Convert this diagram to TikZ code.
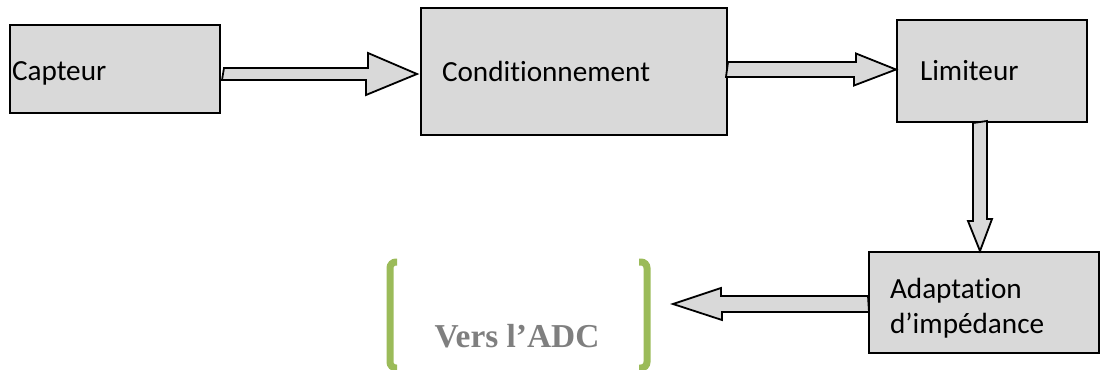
\documentclass[tikz,border=0pt]{standalone}
\usepackage{fontspec}
\setmainfont{Carlito}[Ligatures={TeX,NoCommon}]
\newfontfamily\timesfont{Liberation Serif}
\usetikzlibrary{calc}
\definecolor{grisbloc}{HTML}{D9D9D9}
\definecolor{vertacc}{HTML}{9BBB59}
\definecolor{gristexte}{HTML}{7F7F7F}
\begin{document}
\begin{tikzpicture}[x=0.5pt, y=-0.5pt] % 1 unité = 1 pixel, y vers le bas
\tikzstyle{bloc} = [draw, fill=grisbloc, line width=1pt, align=left, inner ysep=0pt, font=\fontsize{14.6}{17.5}\selectfont] % bloc gris
\tikzstyle{fleche} = [draw, fill=grisbloc, line width=0.9pt, line join=miter] % flèche épaisse
\tikzstyle{crochet} = [draw=vertacc, line width=3.5pt, rounded corners=3pt] % crochet vert

\useasboundingbox (0,0) rectangle (1101,369);

\node[bloc, text width=103pt, inner xsep=1pt, minimum height=44pt] (capteur) at (115,69) {\rule{0pt}{13.4pt}Capteur};
\node[bloc, text width=132pt, inner xsep=10.5pt, minimum height=63.5pt] (cond) at (574,71.5) {Conditionnement};
\node[bloc, text width=72pt, inner xsep=11.5pt, minimum height=51pt] (limiteur) at (992,71) {Limiteur};
\node[bloc, text width=94pt, inner xsep=10.5pt, minimum height=50.5pt] (adapt) at (984,302.5) {\rule{0pt}{16.3pt}Adaptation\\d’impédance};
\node[font=\timesfont\bfseries\fontsize{16.7}{20}\selectfont, text=gristexte] (adc) at (517,336) {Vers l’ADC};
\coordinate (versadc) at (673,304); % pointe vers l'ADC

% flèches entre les blocs
\draw[fleche] ($(capteur.east)+(3,-1)$) -- ++(144,0) -- ++(0,-15) -- ($(cond.west)+(-3,2.5)$) -- ++(-51,21) -- ++(0,-15) -- ++(-144,0) -- cycle;
\draw[fleche] ($(cond.east)+(0,-9.5)$) -- ++(128,0) -- ++(0,-8.5) -- ($(limiteur.west)+(0,-1.5)$) -- ++(-42,16) -- ++(0,-8.5) -- ++(-128,0) -- cycle;
\draw[fleche] ($(limiteur.south)+(-19,0)$) -- ++(0,98) -- ++(-5,0) -- ($(adapt.north)+(-4,0)$) -- ++(12,-32) -- ++(-5,0) -- ++(0,-98) -- cycle;
\draw[fleche] ($(adapt.west)+(0,-6.5)$) -- ++(-147,0) -- ++(0,-8) -- (versadc) -- ++(49,16) -- ++(0,-8) -- ++(147,0) -- cycle;

% crochets autour du texte
\draw[crochet] ($(adc.center)+(-120,-74)$) -- ++(-7,0) -- ++(0,106) -- ++(7,0);
\draw[crochet] ($(adc.center)+(122,-74)$) -- ++(8,0) -- ++(0,106) -- ++(-8,0);
\end{tikzpicture}
\end{document}
